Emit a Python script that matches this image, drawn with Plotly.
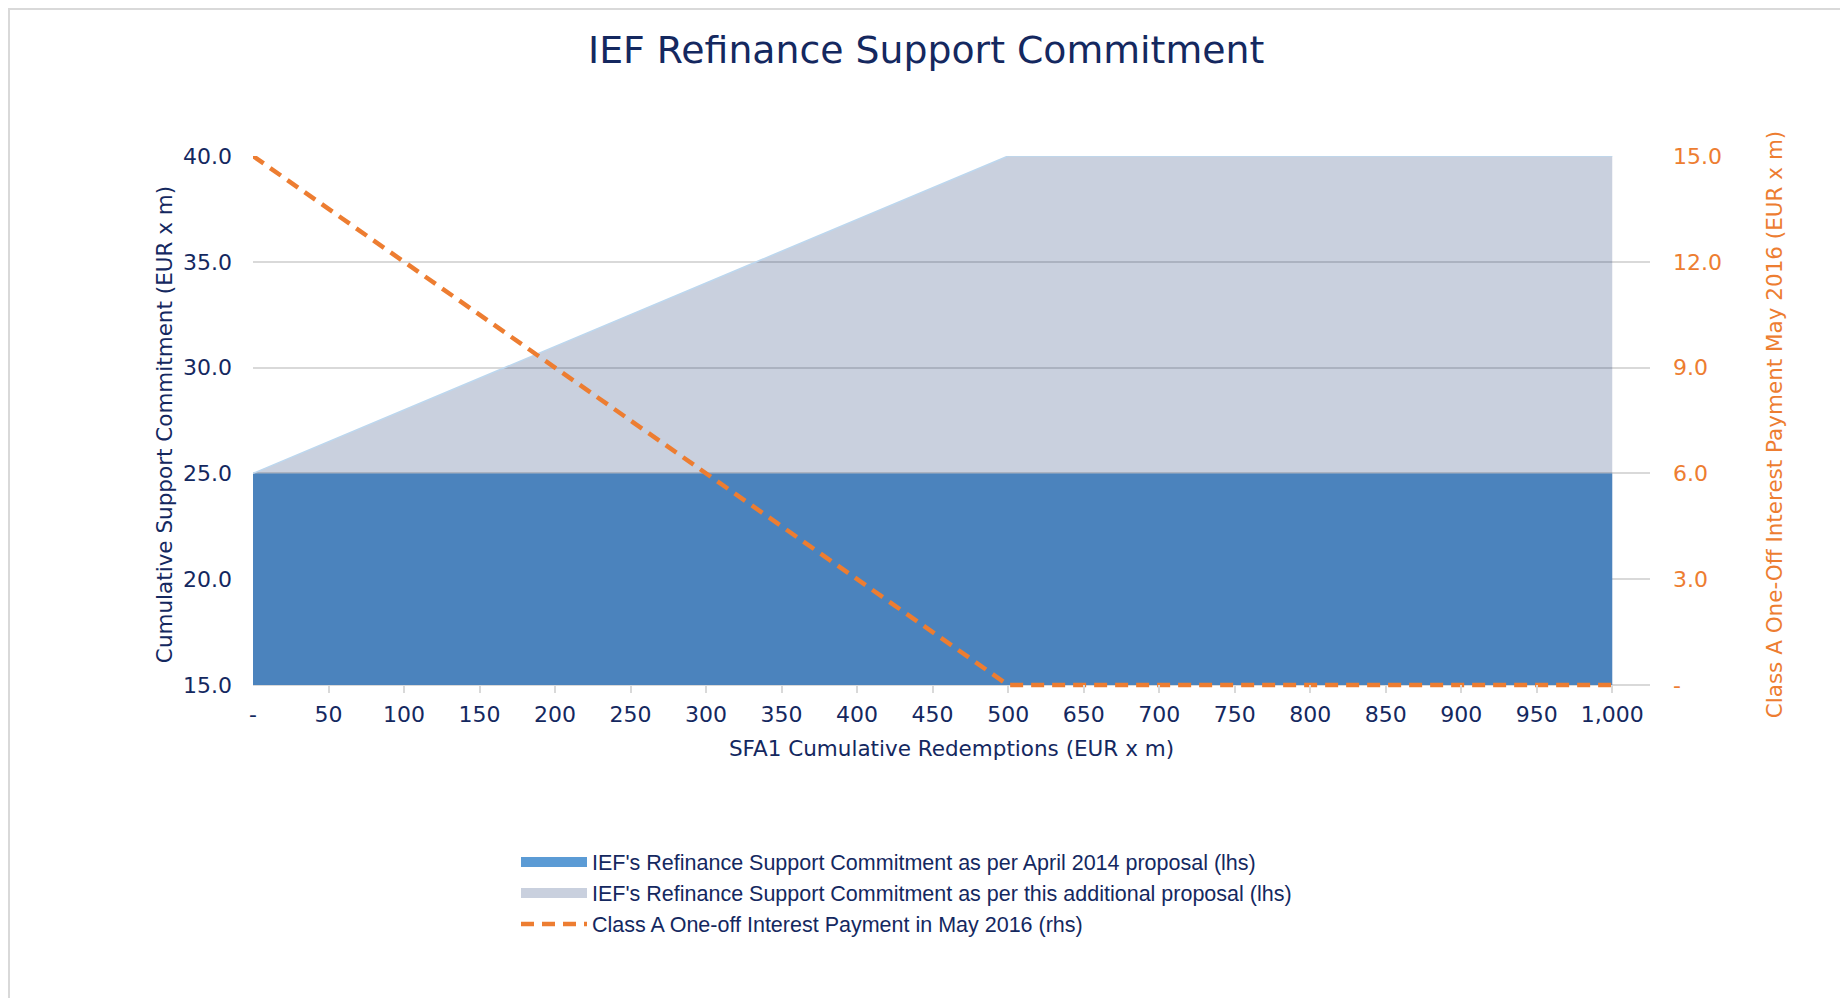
import plotly.graph_objects as go

# ---- data ----
categories = ["-", "50", "100", "150", "200", "250", "300", "350", "400", "450", "500",
              "650", "700", "750", "800", "850", "900", "950", "1,000"]
april_2014 = [25.0] * 19
additional = [25.0, 26.5, 28.0, 29.5, 31.0, 32.5, 34.0, 35.5, 37.0, 38.5, 40.0,
              40.0, 40.0, 40.0, 40.0, 40.0, 40.0, 40.0, 40.0]
interest = [15.0, 13.5, 12.0, 10.5, 9.0, 7.5, 6.0, 4.5, 3.0, 1.5, 0.0,
            0.0, 0.0, 0.0, 0.0, 0.0, 0.0, 0.0, 0.0]
left_min, left_max = 15.0, 40.0
right_min, right_max = 0.0, 15.0
baseline = [left_min] * 19
left_ticks = [15, 20, 25, 30, 35, 40]
right_ticks = [0, 3, 6, 9, 12, 15]
right_ticktext = ["-", "3.0", "6.0", "9.0", "12.0", "15.0"]

names = ["IEF's Refinance Support Commitment as per April 2014 proposal (lhs)",
         "IEF's Refinance Support Commitment as per this additional proposal (lhs)",
         "Class A One-off Interest Payment in May 2016 (rhs)"]

NAVY = "#14285F"
ORANGE = "#ED7D31"
GRID = "#D9D9D9"
BLUE = "#5B9BD5"
GREYFILL = "rgba(20,51,112,0.23)"
FONT = "DejaVu Sans"

# layout geometry (px)
W, H = 1840, 990
L, R, T = 245, 198, 148
AXIS_PX = 529          # pixel span of the 15..40 range
PAD = 8                # extra room below the axis so the line is not clipped
B = H - (T + AXIS_PX + PAD)
PH = AXIS_PX + PAD
PW = W - L - R
left_lo = left_min - PAD * (left_max - left_min) / AXIS_PX
right_lo = right_min - PAD * (right_max - right_min) / AXIS_PX

fig = go.Figure()
# baseline + blue area
fig.add_trace(go.Scatter(x=categories, y=baseline, mode="lines", line=dict(width=0),
                         showlegend=False, hoverinfo="skip"))
fig.add_trace(go.Scatter(x=categories, y=april_2014, mode="lines", fill="tonexty",
                         fillcolor=BLUE, line=dict(color=BLUE, width=0),
                         showlegend=False, hoverinfo="skip"))
# baseline + grey translucent area
fig.add_trace(go.Scatter(x=categories, y=baseline, mode="lines", line=dict(width=0),
                         showlegend=False, hoverinfo="skip"))
fig.add_trace(go.Scatter(x=categories, y=additional, mode="lines", fill="tonexty",
                         fillcolor=GREYFILL, line=dict(color="#BDD7EE", width=1.5),
                         showlegend=False, hoverinfo="skip"))
# orange dashed line
fig.add_trace(go.Scatter(x=categories, y=interest, mode="lines", yaxis="y2",
                         line=dict(color=ORANGE, width=4.5, dash="13px,8px"),
                         name=names[2], showlegend=False, hoverinfo="skip"))

# legend entries
fig.add_trace(go.Scatter(x=[None], y=[None], mode="lines", name=names[0],
                         line=dict(color=BLUE, width=14)))
fig.add_trace(go.Scatter(x=[None], y=[None], mode="lines", name=names[1],
                         line=dict(color="#C9D0DE", width=14)))
fig.add_trace(go.Scatter(x=[None], y=[None], mode="lines", name=names[2], yaxis="y2",
                         line=dict(color=ORANGE, width=4.5, dash="13px,8px")))

fig.update_layout(
    width=W, height=H,
    margin=dict(l=L, r=R, t=T, b=B, pad=0),
    paper_bgcolor="white", plot_bgcolor="white",
    font=dict(family=FONT, color=NAVY),
    title=dict(text="IEF Refinance Support Commitment", x=0.499, xref="container",
               y=1 - 41.5 / H, yref="container", xanchor="center", yanchor="middle",
               font=dict(family=FONT, size=37.8, color=NAVY)),
    xaxis=dict(type="category", range=[0, 18.5], showgrid=False, showline=False,
               zeroline=False,
               ticks="inside", ticklen=PAD, tickcolor=GRID, tickwidth=1.5,
               tickfont=dict(family=FONT, size=22, color=NAVY),
               ticklabelstandoff=6,
               title=dict(text="SFA1 Cumulative Redemptions (EUR x m)",
                          font=dict(family=FONT, size=21.5, color=NAVY), standoff=14)),
    yaxis=dict(range=[left_lo, left_max], tickvals=left_ticks, tickformat=".1f",
               showgrid=True, gridcolor=GRID, gridwidth=2, zeroline=False,
               showline=False, ticks="",
               tickfont=dict(family=FONT, size=22, color=NAVY), ticklabelstandoff=20,
               title=dict(text="Cumulative Support Commitment (EUR x m)",
                          font=dict(family=FONT, size=21.5, color=NAVY), standoff=4)),
    yaxis2=dict(range=[right_lo, right_max], overlaying="y", side="right",
                tickvals=right_ticks, ticktext=right_ticktext, showgrid=False,
                zeroline=False, showline=False, ticks="",
                tickfont=dict(family=FONT, size=22, color=ORANGE),
                ticklabelstandoff=22,
                title=dict(text="Class A One-Off Interest Payment May 2016 (EUR x m)",
                           font=dict(family=FONT, size=21.5, color=ORANGE), standoff=45)),
    legend=dict(x=(508 - L) / PW, y=-(833.5 - (T + PH)) / PH,
                xanchor="left", yanchor="top",
                font=dict(family="Liberation Sans", size=21.5, color=NAVY),
                bgcolor="rgba(0,0,0,0)", itemwidth=66, traceorder="normal"),
    showlegend=True,
)

# outer chart border
fig.add_shape(type="rect", xref="paper", yref="paper",
              x0=(1 - L) / PW, x1=(1836 - L) / PW,
              y0=-(H + 20 - (T + PH)) / PH, y1=((T + PH) - 1) / PH,
              line=dict(color=GRID, width=2), fillcolor="rgba(0,0,0,0)", layer="below")

fig.write_html("out.html")
